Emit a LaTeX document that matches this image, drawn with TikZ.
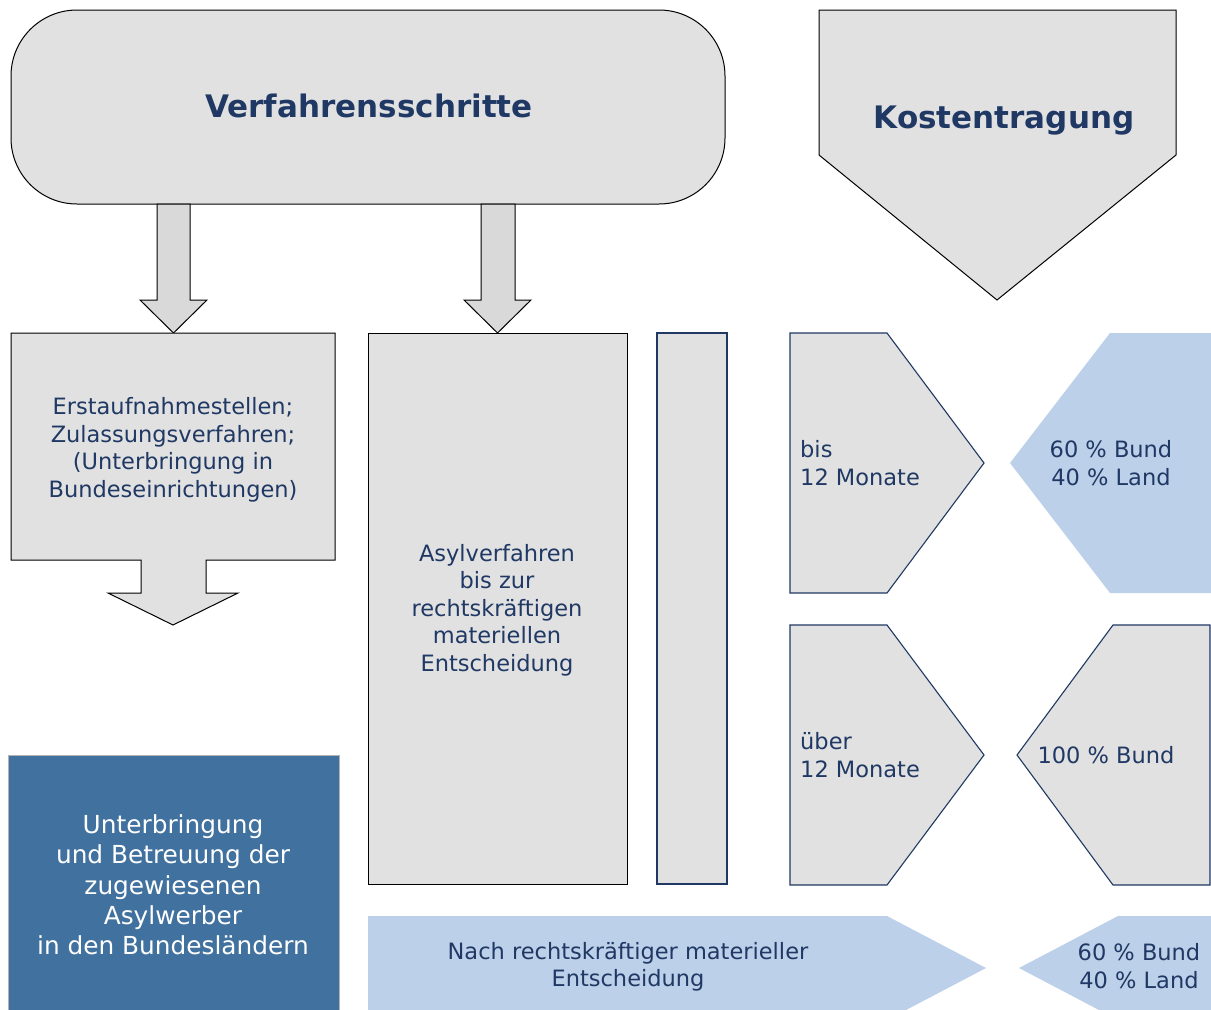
\documentclass[tikz,border=0pt]{standalone}
\usepackage{fontspec}
\setmainfont{DejaVu Sans}
\definecolor{txtblue}{RGB}{31,56,100}
\definecolor{boxgray}{RGB}{225,225,225}
\definecolor{arrgray}{RGB}{217,217,217}
\definecolor{lightblue}{RGB}{189,208,233}
\definecolor{darkbox}{RGB}{65,113,158}
\definecolor{edgeblue}{RGB}{31,56,100}
\tikzset{
  grayshape/.style={fill=boxgray, draw=black, line width=1pt, line join=miter},
  arrowshape/.style={fill=arrgray, draw=black, line width=1pt, line join=miter},
  blueedge/.style={fill=boxgray, draw=edgeblue, line width=1.1pt, line join=miter},
  lightshape/.style={fill=lightblue, draw=none},
  txt/.style={text=txtblue, font=\fontsize{22.5}{27.5}\selectfont, align=center, inner sep=0pt},
  headtxt/.style={text=txtblue, font=\fontsize{31}{36}\selectfont\bfseries, inner sep=0pt},
  whitetxt/.style={text=white, font=\fontsize{24.8}{30.3}\selectfont, align=center, inner sep=0pt},
}
\begin{document}
\begin{tikzpicture}[x=1pt,y=-1pt]
\clip (0,0) rectangle (1211,1010);
\fill[white] (0,0) rectangle (1211,1010);
% top rounded box
\draw[grayshape, rounded corners=66pt] (11,10) rectangle (725,204);
\node[headtxt] (verf) at (369,106) {Verfahrensschritte};
% down arrows
\draw[arrowshape] (157,204) -- (190,204) -- (190,300) -- (207,300) -- (173.5,333) -- (140,300) -- (157,300) -- cycle;
\draw[arrowshape] (481,204) -- (515,204) -- (515,300) -- (531,300) -- (497.5,333) -- (464,300) -- (481,300) -- cycle;
% Kostentragung
\draw[grayshape] (819,10) -- (1176,10) -- (1176,155) -- (997,300) -- (819,155) -- cycle;
\node[headtxt] (kost) at (1004,121) {Kostentragung};
% Erstaufnahme box with arrow
\draw[grayshape] (11,333) -- (335,333) -- (335,560) -- (206,560) -- (206,593) -- (238,593) -- (173,625) -- (108,593) -- (141,593) -- (141,560) -- (11,560) -- cycle;
\node[txt] (erst) at (173,450) {Erstaufnahmestellen;\\Zulassungsverfahren;\\(Unterbringung in\\Bundeseinrichtungen)};
% Unterbringung box
\draw[fill=darkbox, draw=gray!60, line width=1pt] (8,755) rectangle (339,1015);
\node[whitetxt] (unter) at (173,885) {Unterbringung\\und Betreuung der\\zugewiesenen\\Asylwerber\\in den Bundesländern};
% Asylverfahren box
\draw[grayshape] (368,333) rectangle (627,884);
\node[txt] (asyl) at (497,610) {Asylverfahren\\bis zur\\rechtskräftigen\\materiellen\\Entscheidung};
% thin box
\draw[blueedge] (657,333) rectangle (727,884);
% bis 12 Monate
\draw[blueedge] (790,333) -- (887,333) -- (984,463) -- (887,593) -- (790,593) -- cycle;
\node[txt, anchor=west, align=left] (bis) at (800,463) {bis\\12 Monate};
\fill[lightshape] (1110,333) -- (1215,333) -- (1215,593) -- (1110,593) -- (1010,463) -- cycle;
\node[txt] (b6040) at (1111,463) {60 \% Bund\\40 \% Land};
% über 12 Monate
\draw[blueedge] (790,625) -- (887,625) -- (984,755) -- (887,885) -- (790,885) -- cycle;
\node[txt, anchor=west, align=left] (ueber) at (800,755) {über\\12 Monate};
\draw[blueedge] (1113,625) -- (1210,625) -- (1210,885) -- (1113,885) -- (1017,755) -- cycle;
\node[txt] (b100) at (1106,755) {100 \% Bund};
% bottom row
\fill[lightshape] (368,916) -- (887,916) -- (986,968) -- (887,1020) -- (368,1020) -- cycle;
\node[txt] (nach) at (628,967) {Nach rechtskräftiger materieller\\Entscheidung};
\fill[lightshape] (1118,916) -- (1215,916) -- (1215,1020) -- (1118,1020) -- (1019,968) -- cycle;
\node[txt] (c6040) at (1139,966) {60 \% Bund\\40 \% Land};
\end{tikzpicture}
\end{document}
